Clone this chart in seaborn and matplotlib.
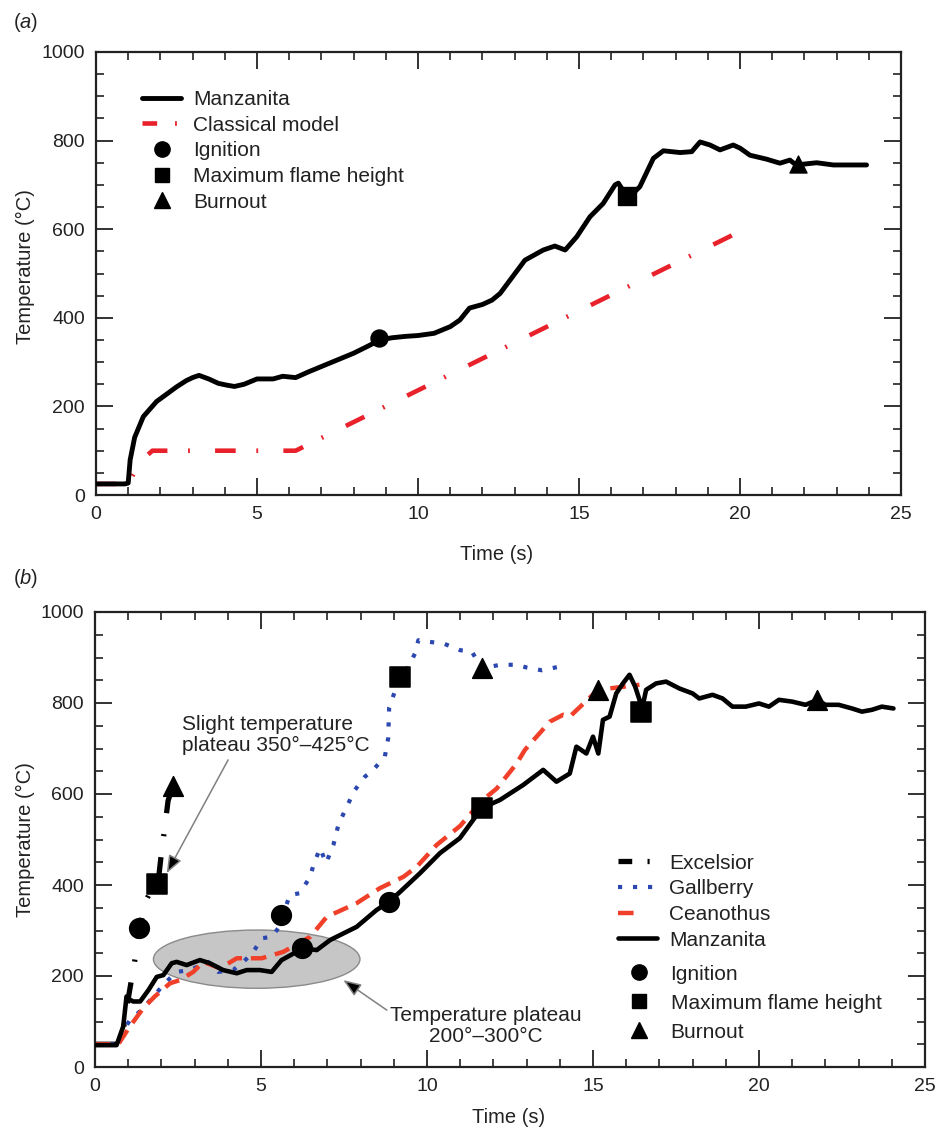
import numpy as np
import pandas as pd
import matplotlib
matplotlib.use("Agg")
import matplotlib.pyplot as plt
import seaborn as sns
from matplotlib.patches import Ellipse
from matplotlib.lines import Line2D
from matplotlib.ticker import MultipleLocator

# ---------------- Panel (a) data ----------------
a_manz_t = [0, 0.9, 1.0, 1.06, 1.2, 1.47, 1.88, 2.2, 2.5, 2.8, 3.0, 3.2, 3.5, 3.8, 4.06, 4.3,
            4.6, 5.0, 5.5, 5.8, 6.2, 6.6, 7.0, 7.5, 8.0, 8.5, 8.8, 9.2, 9.6, 10.0, 10.5, 11.0,
            11.3, 11.6, 12.0, 12.3, 12.55, 13.32, 13.89, 14.25, 14.57, 14.93, 15.34, 15.75,
            16.12, 16.22, 16.53, 16.89, 17.31, 17.62, 18.14, 18.5, 18.76, 19.07, 19.38, 19.79,
            20.0, 20.31, 20.83, 21.24, 21.55, 21.74, 22.38, 22.9, 23.93]
a_manz_T = [25, 25, 27, 79, 130, 177, 211, 228, 244, 258, 265, 270, 262, 252, 248, 245,
            250, 262, 262, 268, 265, 278, 290, 305, 320, 338, 350, 355, 358, 360, 365, 380,
            395, 422, 430, 440, 455, 530, 553, 562, 553, 583, 628, 658,
            700, 704, 670, 696, 760, 777, 773, 775, 797, 790, 779, 790,
            783, 767, 758, 749, 756, 745, 750, 745, 745]
a_model_t = [0, 1.0, 1.37, 1.75, 6.2, 20.0]
a_model_T = [25, 25, 75, 100, 100, 595]
a_event_names = ["Ignition", "Maximum flame height", "Burnout"]
a_event_t = [8.8, 16.5, 21.8]
a_event_T = [355, 675, 747]

# ---------------- Panel (b) data ----------------
b_exc_t = [0, 0.7, 0.85, 1.0, 1.2, 1.35, 1.5, 1.7, 1.9, 2.0, 2.1, 2.2, 2.35]
b_exc_T = [50, 50, 80, 150, 235, 305, 360, 390, 405, 470, 525, 585, 618]

b_gal_t = [0, 0.7, 0.75, 1.05, 1.4, 1.76, 2.1, 2.46, 2.86, 3.41, 3.71, 4.16, 4.47, 4.77,
           5.02, 5.32, 5.52, 5.87, 6.17, 6.48, 6.58, 6.78, 6.96, 7.18, 7.33, 7.58, 7.83,
           8.13, 8.38, 8.73, 8.83, 8.86, 9.19, 9.44, 9.64, 9.74, 9.99, 10.49, 11.0, 11.35,
           11.65, 12.2, 12.7, 13.0, 13.45, 14.0]
b_gal_T = [50, 50, 67, 103, 125, 155, 184, 209, 213, 231, 209, 213, 231, 253,
           283, 286, 305, 378, 382, 418, 444, 481, 448, 488, 532, 572, 609,
           638, 653, 682, 722, 790, 858, 880, 909, 938, 935, 931, 916, 913,
           876, 884, 884, 878, 872, 880]

b_cea_t = [0, 0.7, 1.05, 1.45, 1.8, 2.26, 2.56, 2.96, 3.26, 3.77, 4.27, 5.02, 5.67, 6.48,
           6.98, 7.88, 8.58, 9.29, 9.69, 10.29, 11.0, 11.65, 12.1, 12.7, 12.95, 13.7, 14.1,
           14.3, 15.15, 16.4]
b_cea_T = [50, 50, 89, 129, 155, 184, 191, 209, 231, 217, 239, 239, 253, 286,
           330, 360, 393, 418, 440, 488, 530, 585, 612, 667, 697, 759, 774,
           770, 829, 840]

b_man_t = [0, 0.65, 0.85, 0.95, 1.0, 1.15, 1.36, 1.61, 1.86, 2.06, 2.31, 2.46, 2.76, 3.16,
           3.46, 3.86, 4.27, 4.57, 4.97, 5.32, 5.62, 6.07, 6.24, 6.68, 7.08, 7.88, 8.48,
           8.86, 9.19, 9.79, 10.39, 10.99, 11.65, 12.2, 12.9, 13.5, 13.9, 14.3, 14.5, 14.8,
           15.0, 15.16, 15.3, 15.5, 15.7, 15.9, 16.1, 16.27, 16.4, 16.46, 16.6, 16.9, 17.2,
           17.6, 18.0, 18.2, 18.6, 18.9, 19.2, 19.6, 20.0, 20.3, 20.6, 21.0, 21.4, 21.76,
           22.0, 22.4, 22.8, 23.1, 23.4, 23.7, 24.05]
b_man_T = [48, 48, 89, 155, 150, 144, 144, 169, 198, 202, 228, 231, 224, 235,
           228, 213, 206, 213, 213, 209, 235, 253, 261, 257, 279, 308, 345,
           363, 385, 426, 470, 503, 569, 587, 620, 653, 627, 645, 704, 689,
           726, 689, 763, 770, 821, 843, 862, 836, 807, 781, 829, 843, 847,
           832, 821, 810, 818, 810, 792, 792, 799, 792, 807, 803, 796, 807,
           796, 796, 788, 781, 785, 792, 788]

b_ign_t = [1.33, 5.59, 6.24, 8.86]
b_ign_T = [305, 334, 262, 363]
b_flame_t = [1.88, 9.19, 11.65, 16.46]
b_flame_T = [402, 858, 569, 781]
b_burn_t = [2.35, 11.65, 15.15, 21.76]
b_burn_T = [618, 878, 829, 807]

# ---------------- style ----------------
sns.set_theme(style="ticks")
plt.rcParams['font.family'] = ['Liberation Sans', 'DejaVu Sans']
plt.rcParams['mathtext.fontset'] = 'custom'
plt.rcParams['mathtext.it'] = 'Liberation Sans:italic'
plt.rcParams['mathtext.rm'] = 'Liberation Sans'

RED = '#e8212b'
CEA = '#f0402a'
BLUE = '#2b48b0'
TXT = '#222222'

fig = plt.figure(figsize=(9.37, 11.29), dpi=100)
W, H = 937, 1129
axA = fig.add_axes([96 / W, 1 - 495 / H, (901 - 96) / W, (495 - 52) / H])
axB = fig.add_axes([95 / W, 1 - 1067 / H, (925 - 95) / W, (1067 - 612) / H])


def style_axis(ax):
    ax.set_xlim(0, 25)
    ax.set_ylim(0, 1000)
    ax.xaxis.set_major_locator(MultipleLocator(5))
    ax.xaxis.set_minor_locator(MultipleLocator(1))
    ax.yaxis.set_major_locator(MultipleLocator(200))
    ax.yaxis.set_minor_locator(MultipleLocator(50))
    ax.tick_params(which='both', direction='in', top=True, right=True, color='#222222')
    ax.tick_params(which='major', length=12, width=1.3, labelsize=14, pad=8, labelcolor=TXT)
    ax.tick_params(which='minor', length=6, width=1.2)
    for s in ax.spines.values():
        s.set_linewidth(1.6)
        s.set_color('#222222')
    ax.set_xlabel('Time (s)', fontsize=14.5, color=TXT)
    ax.set_ylabel('Temperature (°C)', fontsize=14.5, color=TXT)
    ax.xaxis.label.set_va('center')
    ax.yaxis.label.set_va('center')


LEG = dict(frameon=False, fontsize=15, handlelength=1.9, handletextpad=0.55,
           borderpad=0, borderaxespad=0, labelcolor=TXT, loc='upper left')

# ---------------- Panel (a) ----------------
dfA1 = pd.DataFrame({'t': a_manz_t, 'T': a_manz_T})
dfA2 = pd.DataFrame({'t': a_model_t, 'T': a_model_T})
sns.lineplot(data=dfA1, x='t', y='T', ax=axA, color='black', lw=3.5, sort=False,
             estimator=None, zorder=3)
sns.lineplot(data=dfA2, x='t', y='T', ax=axA, color=RED, lw=3.3, sort=False,
             estimator=None, zorder=2)
axA.lines[-1].set_dashes((4.5, 4.5, 0.4, 5.5))
mk = ['o', 's', '^']
for i in range(3):
    sns.scatterplot(x=[a_event_t[i]], y=[a_event_T[i]], ax=axA, marker=mk[i], s=150,
                    color='black', edgecolor='black', zorder=5, legend=False)
style_axis(axA)
axA.xaxis.set_label_coords(0.497, -0.135)
axA.yaxis.set_label_coords(-0.088, 0.515)

hA = [Line2D([], [], color='black', lw=3.5),
      Line2D([], [], color=RED, lw=3.3, dashes=(3.2, 3.9, 0.4, 4.0)),
      Line2D([], [], color='black', marker='o', ls='none', ms=11),
      Line2D([], [], color='black', marker='s', ls='none', ms=10.5),
      Line2D([], [], color='black', marker='^', ls='none', ms=11)]
lA = ['Manzanita', 'Classical model'] + a_event_names
axA.legend(hA, lA, bbox_to_anchor=(0.057, 0.914), labelspacing=0.32, **LEG)

# ---------------- Panel (b) ----------------
ell = Ellipse((4.87, 237), 6.22, 128, facecolor='#c6c6c6', edgecolor='#8a8a8a', lw=1.0,
              zorder=1)
axB.add_patch(ell)

series = [
    ('Excelsior', b_exc_t, b_exc_T, 'black', 3.8, (4.0, 4.0, 0.4, 4.0), (2.6, 2.9, 0.4, 3.0)),
    ('Gallberry', b_gal_t, b_gal_T, BLUE, 3.0, (1.0, 2.6), (1.0, 2.6)),
    ('Ceanothus', b_cea_t, b_cea_T, CEA, 3.2, (3.5, 2.0), (3.5, 6.0)),
    ('Manzanita', b_man_t, b_man_T, 'black', 3.3, None, None),
]
handlesB = []
for name, t, T, c, lw, d, dl in series:
    df = pd.DataFrame({'t': t, 'T': T})
    sns.lineplot(data=df, x='t', y='T', ax=axB, color=c, lw=lw, sort=False,
                 estimator=None, zorder=3 if name == 'Manzanita' else 2.5)
    ln = axB.lines[-1]
    if d is not None:
        ln.set_dashes(d)
        handlesB.append(Line2D([], [], color=c, lw=lw, dashes=dl))
    else:
        handlesB.append(Line2D([], [], color=c, lw=lw))

sns.scatterplot(x=b_ign_t, y=b_ign_T, ax=axB, marker='o', s=200, color='black',
                edgecolor='black', zorder=5, legend=False)
sns.scatterplot(x=b_flame_t, y=b_flame_T, ax=axB, marker='s', s=190, color='black',
                edgecolor='black', zorder=5, legend=False)
sns.scatterplot(x=b_burn_t, y=b_burn_T, ax=axB, marker='^', s=200, color='black',
                edgecolor='black', zorder=5, legend=False)
style_axis(axB)
axB.xaxis.set_label_coords(0.498, -0.112)
axB.yaxis.set_label_coords(-0.084, 0.5)

leg1 = axB.legend(handlesB, [s[0] for s in series], bbox_to_anchor=(0.63, 0.469),
                  labelspacing=0.32, **LEG)
axB.add_artist(leg1)
hM = [Line2D([], [], color='black', marker='o', ls='none', ms=11),
      Line2D([], [], color='black', marker='s', ls='none', ms=10.5),
      Line2D([], [], color='black', marker='^', ls='none', ms=11)]
axB.legend(hM, a_event_names, bbox_to_anchor=(0.632, 0.225), labelspacing=0.48, **LEG)

arrow_kw = dict(arrowstyle='-|>,head_length=0.9,head_width=0.35', color='#808080',
                lw=1.1, shrinkA=0, shrinkB=0)
axB.annotate('', xy=(2.16, 426), xytext=(4.01, 675),
             arrowprops=dict(arrow_kw, fc='black'), zorder=6)
axB.annotate('', xy=(7.48, 191), xytext=(8.79, 125),
             arrowprops=dict(arrow_kw, fc='black'), zorder=6)
axB.text(2.61, 729, 'Slight temperature\nplateau 350°–425°C', fontsize=15,
         ha='left', va='center', multialignment='left', color=TXT, linespacing=1.15)
axB.text(11.78, 90, 'Temperature plateau\n200°–300°C', fontsize=15,
         ha='center', va='center', multialignment='center', color=TXT, linespacing=1.15)

fig.text(13 / W, 1 - 23 / H, r'($\it{a}$)', fontsize=14.5, va='center', ha='left', color=TXT)
fig.text(13 / W, 1 - 578 / H, r'($\it{b}$)', fontsize=14.5, va='center', ha='left', color=TXT)

fig.savefig('out.png', dpi=100)
